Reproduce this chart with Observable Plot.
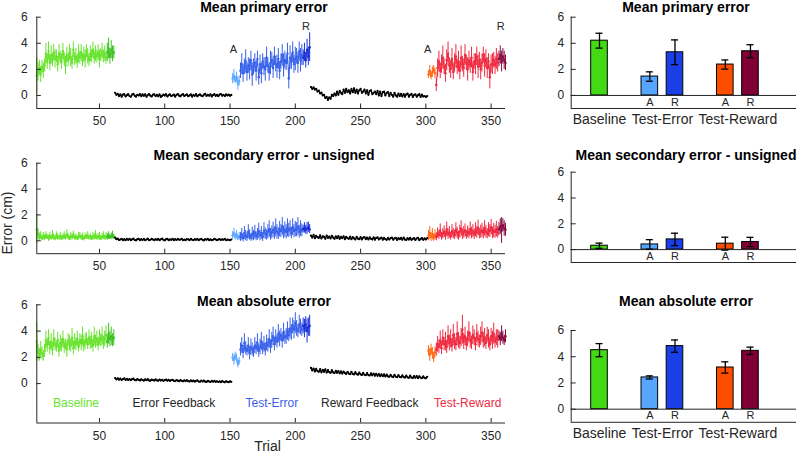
<!DOCTYPE html>
<html><head><meta charset="utf-8">
<script src="https://cdn.jsdelivr.net/npm/d3@7"></script>
<script src="https://cdn.jsdelivr.net/npm/@observablehq/plot@0.6"></script>
<style>
body{margin:0;background:#fff;}
#fig{position:relative;width:798px;height:455px;overflow:hidden;font-family:"Liberation Sans",Arial,sans-serif;background:#fff;}
.abs{position:absolute;}
.title{font-weight:bold;font-size:14px;line-height:14px;text-align:center;width:400px;color:#000;white-space:nowrap;}
.lbl{font-size:14px;line-height:14px;text-align:center;color:#262626;white-space:nowrap;}
</style></head><body><div id="fig"></div>
<script>
// ---------------- DATA ----------------
const xTicks = [50, 100, 150, 200, 250, 300, 350];
const yTicks = [0, 2, 4, 6];
const titles = ["Mean primary error", "Mean secondary error - unsigned", "Mean absolute error"];

// phases of the experiment (trial ranges)
const phaseNames = ["Baseline", "Error Feedback", "Test-Error", "Reward Feedback", "Test-Reward"];
const phaseStart = [2, 62, 152, 212, 302];
const phaseColors = ["#66e32b", "#262626", "#3a5fe8", "#262626", "#ee2a44"];

// ---- Mean primary error, per trial ----
const p1Base = [1.5,1.8,2.1,1.6,2.2,1.9,2.3,3.2,2.6,3.4, 2.5,3.1,2.7,3.3,2.8,3.0,2.4,3.2,2.9,2.6, 3.4,2.8,2.3,3.1,2.7,3.3,2.9,2.5,3.5,2.8, 3.0,2.6,3.2,2.9,3.3,2.7,3.1,2.8,3.4,3.0, 2.7,3.2,3.0,3.5,2.9,3.2,3.0,3.3,2.8,3.1, 3.4,3.0,3.2,2.9,3.3,3.6,3.0,3.5,3.2,3.3];
const p1BaseSem = [1.35,0.7,0.6,0.6,0.5,0.6,0.5,0.8,0.6,0.7, 0.6,0.7,0.5,0.6,0.7,0.5,0.6,0.7,0.5,0.6, 0.6,0.5,0.7,0.6,0.5,0.6,0.7,0.5,0.6,0.5, 0.6,0.5,0.7,0.5,0.6,0.5,0.6,0.7,0.5,0.6, 0.5,0.6,0.5,0.6,0.5,0.6,0.5,0.6,0.7,0.5, 0.6,0.5,0.6,0.5,0.7,0.8,0.6,0.7,0.6,0.5];
const p1EF = [0.2,0.05,0.12,-0.05,0.08,-0.1,0.06,0.1,-0.08,0.02, 0.1,-0.04,-0.1,0.07,0.12,-0.02,-0.09,0.05,0.0,0.1, -0.06,0.08,-0.03,0.09,-0.1,0.03,0.11,-0.02,-0.08,0.06, 0.09,-0.05,0.04,-0.07,0.08,-0.11,-0.03,0.07,-0.01,0.1, -0.08,0.02,0.09,-0.05,0.0,0.07,-0.09,0.04,0.11,-0.02, -0.07,0.05,0.1,-0.04,0.02,0.09,-0.06,0.0,0.08,-0.09, 0.04,-0.03,0.1,-0.07,0.02,0.08,-0.02,-0.06,0.06,0.12, -0.04,0.05,-0.02,0.09,-0.08,0.03,0.1,-0.03,0.05,-0.06, 0.07,0.11,-0.02,0.05,-0.05,0.08,0.0,0.06,-0.03,0.04];
const p1TE = [1.3,1.5,1.2,1.4,0.9,1.1, 1.9,2.4,1.7,2.2,2.6,1.8,2.3,2.0,2.7,1.6, 2.2,2.5,1.9,2.8,1.4,2.4,1.7,2.6,2.2,2.0, 2.9,2.3,1.8,2.5,2.7,2.1,3.0,2.4,2.2,2.8, 1.9,2.6,3.1,2.3,2.7,2.5,3.2,1.3,2.9,2.6, 3.3,2.4,2.8,3.0,2.5,3.4,2.7,3.1, 2.9,3.3,2.7,3.5,3.0,3.7];
const p1TESem = [0.4,0.5,0.3,0.4,0.5,0.4, 0.6,0.8,0.7,0.6,0.9,0.7,0.6,0.8,0.7,0.9, 0.6,0.7,0.8,0.6,0.6,0.7,0.8,0.6,0.7,0.9, 0.8,0.6,0.7,0.9,0.6,0.8,0.7,0.6,0.9,0.8, 0.7,0.6,0.8,0.9,0.7,0.6,0.8,0.8,0.9,0.6, 0.8,0.7,0.9,0.6,0.8,0.7,0.9,0.8, 0.6,0.7,0.6,0.8,0.7,1.1];
const p1RF = [0.65,0.5,0.62,0.45,0.5,0.3,0.38,0.15,0.22,0.0, 0.05,-0.2,-0.1,-0.35,-0.15,-0.25,0.05,-0.05,0.15,0.0, 0.3,0.05,0.35,0.2,0.1,0.45,0.2,0.5,0.25,0.4, 0.15,0.5,0.25,0.55,0.2,0.45,0.15,0.4,0.5,0.2, 0.3,0.45,0.15,0.4,0.05,0.35,0.4,0.1,0.2,0.3, 0.1,0.35,0.0,0.3,-0.05,0.25,0.3,0.0,0.2,0.25, -0.05,0.2,0.05,-0.1,0.2,0.0,-0.1,0.15,-0.05,0.12, -0.08,0.1,-0.1,0.08,0.15,-0.1,0.05,0.12,-0.12,0.05, 0.08,-0.1,0.02,0.1,-0.12,0.06,-0.08,-0.05,-0.12,-0.05];
const p1TR = [1.6,1.9,1.5,1.8,2.0,1.7, 0.8,2.1,2.6,1.9,2.4,2.9,2.2,1.7,2.7,3.2, 2.3,2.0,2.8,1.8,2.5,3.0,2.2,2.6,1.9,2.9, 2.4,2.1,3.1,2.5,2.0,2.7,2.3,2.9,1.8,2.6, 2.4,3.0,2.2,2.7,2.0,2.5,3.1,2.3,2.8,2.1, 2.6,1.4,2.4,2.4,2.7,2.3,2.8,2.5, 2.8,3.1,2.6,3.0,2.7,2.5];
const p1TRSem = [0.3,0.4,0.3,0.4,0.3,0.4, 0.5,0.7,0.8,0.6,0.7,0.9,0.6,0.7,0.8,0.9, 0.6,0.7,0.8,0.6,0.7,0.9,0.6,0.8,0.7,0.9, 0.6,0.7,0.8,0.6,0.9,0.7,0.6,0.8,0.7,0.6, 0.8,0.7,0.9,0.6,0.8,0.7,0.6,0.9,0.7,0.8, 0.6,0.9,0.7,0.8,0.6,0.7,0.8,0.7, 0.6,0.7,0.8,0.6,0.7,0.6];

// ---- Mean secondary error - unsigned, per trial ----
const p2Base = [0.9,0.5,0.3,0.4,0.2,0.35,0.25,0.4,0.3,0.2, 0.35,0.25,0.45,0.3,0.2,0.4,0.3,0.25,0.35,0.2, 0.3,0.4,0.25,0.5,0.3,0.2,0.35,0.3,0.45,0.25, 0.3,0.2,0.35,0.4,0.25,0.3,0.2,0.35,0.3,0.4, 0.25,0.3,0.2,0.35,0.3,0.45,0.25,0.3,0.35,0.2, 0.3,0.4,0.25,0.35,0.3,0.4,0.3,0.35,0.45,0.3];
const p2BaseSem = [1.1,0.4,0.3,0.3,0.2,0.3,0.25,0.3,0.2,0.25, 0.3,0.2,0.35,0.25,0.2,0.3,0.25,0.2,0.3,0.2, 0.25,0.3,0.2,0.35,0.25,0.2,0.3,0.25,0.3,0.2, 0.25,0.2,0.3,0.25,0.2,0.3,0.2,0.25,0.2,0.3, 0.2,0.25,0.2,0.3,0.25,0.35,0.2,0.25,0.3,0.2, 0.25,0.3,0.2,0.3,0.25,0.3,0.2,0.25,0.3,0.2];
const p2EF = [0.25,0.12,0.16,0.06,0.1,0.15,0.05,0.12,0.04,0.14, 0.07,0.15,0.05,0.11,0.16,0.06,0.03,0.12,0.15,0.05, 0.12,0.06,0.14,0.04,0.1,0.16,0.05,0.08,0.14,0.1, 0.04,0.12,0.07,0.15,0.05,0.11,0.17,0.07,0.03,0.12, 0.14,0.05,0.11,0.07,0.15,0.04,0.12,0.06,0.14,0.08, 0.1,0.15,0.05,0.09,0.04,0.13,0.11,0.05,0.15,0.08, 0.04,0.12,0.07,0.14,0.05,0.11,0.15,0.07,0.03,0.12, 0.08,0.14,0.05,0.11,0.04,0.08,0.15,0.1,0.05,0.09, 0.13,0.06,0.11,0.08,0.15,0.04,0.1,0.07,0.05,0.1];
const p2TE = [0.4,0.6,0.3,0.5,0.2,0.35, 0.3,0.5,0.2,0.6,0.4,0.3,0.7,0.45,0.25,0.55, 0.4,0.65,0.35,0.5,0.75,0.4,0.6,0.3,0.8,0.55, 0.45,0.7,0.9,0.5,0.65,0.85,0.6,1.0,0.7,0.55, 0.9,0.75,1.1,0.65,0.85,0.7,1.0,0.8,0.95,0.6, 1.05,0.75,0.9,0.85,1.1,0.7,0.95,0.8, 0.9,1.0,0.85,0.95,1.05,0.9];
const p2TESem = [0.3,0.35,0.25,0.3,0.2,0.3, 0.35,0.45,0.3,0.5,0.4,0.35,0.55,0.4,0.3,0.5, 0.4,0.55,0.35,0.45,0.6,0.4,0.5,0.35,0.6,0.45, 0.4,0.55,0.65,0.45,0.5,0.6,0.5,0.7,0.55,0.45, 0.6,0.5,0.7,0.5,0.6,0.55,0.7,0.55,0.6,0.45, 0.65,0.5,0.6,0.55,0.7,0.5,0.6,0.5, 0.3,0.4,0.35,0.45,0.4,0.35];
const p2RF = [0.4,0.25,0.45,0.2,0.38,0.28,0.22,0.42,0.18,0.35, 0.3,0.15,0.4,0.22,0.33,0.18,0.38,0.25,0.15,0.34, 0.2,0.36,0.15,0.3,0.2,0.35,0.12,0.3,0.2,0.15, 0.32,0.12,0.28,0.18,0.1,0.3,0.16,0.12,0.28,0.1, 0.24,0.28,0.12,0.25,0.1,0.27,0.15,0.1,0.26,0.08, 0.22,0.26,0.1,0.18,0.24,0.08,0.22,0.12,0.07,0.22, 0.1,0.2,0.25,0.08,0.18,0.23,0.06,0.2,0.12,0.22, 0.08,0.24,0.1,0.06,0.2,0.09,0.22,0.07,0.15,0.2, 0.06,0.18,0.22,0.05,0.14,0.2,0.07,0.18,0.1,0.2];
const p2TR = [0.4,0.6,0.3,0.5,0.25,0.45, 0.3,0.6,0.45,0.8,0.35,0.55,0.7,0.4,0.9,0.5, 0.65,0.35,0.75,0.55,0.45,0.85,0.6,0.4,0.7,0.95, 0.5,0.65,0.8,0.45,0.7,0.55,0.9,0.6,0.75,0.5, 0.85,0.65,1.0,0.55,0.7,0.8,0.6,0.95,0.7,0.55, 0.85,0.75,1.05,0.6,0.8,0.7,0.9,0.65, 0.9,1.1,0.8,1.2,0.95,0.85];
const p2TRSem = [0.4,0.5,0.35,0.45,0.3,0.4, 0.3,0.4,0.35,0.5,0.3,0.4,0.45,0.35,0.55,0.4, 0.45,0.3,0.5,0.4,0.35,0.55,0.45,0.35,0.5,0.6, 0.4,0.45,0.5,0.35,0.45,0.4,0.55,0.45,0.5,0.4, 0.55,0.45,0.6,0.4,0.5,0.55,0.45,0.6,0.5,0.4, 0.55,0.5,0.6,0.45,0.55,0.5,0.6,0.45, 0.5,0.6,1.0,0.5,0.6,0.5];

// ---- Mean absolute error, per trial ----
const p3Base = [3.2,2.4,2.2,2.6,2.3,2.1,2.5,3.3,2.9,3.5, 2.7,3.2,2.6,3.4,3.0,2.8,3.3,2.5,3.1,2.9, 3.4,2.8,3.0,2.6,3.3,3.1,2.9,3.5,2.7,3.2, 3.0,3.4,2.8,3.3,3.1,3.6,2.9,3.2,3.4,3.0, 3.5,3.1,3.3,2.9,3.6,3.2,3.4,3.0,3.5,3.3, 3.6,3.1,3.4,3.7,3.2,3.8,3.4,3.6,3.3,3.5];
const p3BaseSem = [1.5,0.6,0.5,0.6,0.5,0.4,0.5,0.7,0.5,0.6, 0.5,0.6,0.5,0.7,0.5,0.4,0.6,0.5,0.6,0.5, 0.6,0.5,0.4,0.6,0.5,0.6,0.5,0.7,0.5,0.6, 0.5,0.6,0.4,0.5,0.6,0.7,0.5,0.6,0.5,0.4, 0.6,0.5,0.6,0.5,0.7,0.5,0.6,0.5,0.6,0.5, 0.7,0.5,0.6,0.7,0.5,0.8,0.6,0.7,0.5,0.6];
const p3EF = [0.42,0.32,0.4,0.3,0.38,0.27,0.35,0.4,0.28,0.36, 0.27,0.35,0.26,0.34,0.38,0.27,0.25,0.34,0.29,0.24, 0.33,0.27,0.23,0.32,0.26,0.34,0.24,0.22,0.31,0.27, 0.23,0.32,0.25,0.22,0.31,0.23,0.29,0.21,0.26,0.31, 0.22,0.28,0.2,0.27,0.29,0.21,0.19,0.27,0.22,0.18, 0.26,0.2,0.17,0.25,0.19,0.26,0.18,0.16,0.24,0.17, 0.23,0.15,0.21,0.24,0.16,0.14,0.22,0.16,0.23,0.15, 0.13,0.21,0.16,0.12,0.2,0.14,0.21,0.13,0.18,0.12, 0.17,0.11,0.19,0.14,0.1,0.18,0.13,0.11,0.17,0.14];
const p3TE = [2.0,1.8,2.1,1.9,1.5,1.7, 2.6,2.9,2.4,3.1,2.7,2.5,2.9,2.3,2.8,2.6, 2.4,2.9,2.7,3.1,2.5,2.8,3.2,2.7,3.0,2.6, 3.1,2.9,3.4,2.8,3.3,3.6,3.0,3.5,3.2,3.8, 3.4,3.7,3.3,3.9,3.5,3.6,4.0,3.7,4.2,3.9, 4.4,4.1,4.6,4.2,4.0,4.5,4.3,4.1, 4.4,4.2,4.5,4.0,4.3,4.4];
const p3TESem = [0.3,0.4,0.3,0.35,0.3,0.3, 0.5,0.6,0.5,0.7,0.5,0.4,0.6,0.5,0.6,0.5, 0.4,0.6,0.5,0.7,0.5,0.6,0.7,0.5,0.6,0.5, 0.6,0.5,0.7,0.5,0.6,0.7,0.5,0.6,0.5,0.7, 0.6,0.5,0.6,0.7,0.5,0.6,0.7,0.5,0.8,0.6, 0.6,0.7,0.8,0.6,0.5,0.7,0.6,0.5, 0.6,0.7,0.6,0.9,0.7,0.8];
const p3RF = [1.2,1.0,1.15,0.92,1.12,0.95,0.9,1.1,0.86,1.04, 0.9,1.08,0.84,1.02,0.88,0.82,1.02,0.85,0.8,0.98, 0.82,0.96,0.78,0.94,0.76,0.92,0.8,0.74,0.9,0.76, 0.72,0.9,0.74,0.7,0.88,0.72,0.68,0.84,0.7,0.66, 0.82,0.67,0.64,0.8,0.65,0.62,0.78,0.63,0.76,0.6, 0.74,0.59,0.72,0.57,0.7,0.56,0.7,0.54,0.68,0.55, 0.52,0.67,0.54,0.5,0.66,0.52,0.49,0.64,0.51,0.48, 0.63,0.49,0.46,0.61,0.47,0.44,0.6,0.46,0.43,0.58, 0.44,0.57,0.42,0.56,0.45,0.41,0.55,0.43,0.4,0.52];
const p3TR = [2.5,2.2,2.6,2.3,2.0,2.4, 2.6,3.0,2.8,3.3,2.7,3.5,3.0,3.2,2.8,3.6, 3.1,3.4,2.9,3.7,3.2,3.0,3.8,3.3,3.1,3.5, 4.1,3.2,3.6,3.0,3.4,3.9,3.3,3.1,3.7,3.5, 3.0,3.8,3.4,3.2,3.6,3.9,3.3,3.5,3.1,3.7, 3.4,3.0,3.6,3.3,3.8,3.2,3.5,3.4, 3.6,3.4,3.8,3.5,3.3,3.6];
const p3TRSem = [0.4,0.5,0.4,0.45,0.4,0.4, 0.5,0.6,0.5,0.7,0.5,0.6,0.5,0.7,0.5,0.8, 0.6,0.7,0.5,0.8,0.6,0.5,0.9,0.6,0.5,0.7, 1.1,0.6,0.7,0.5,0.6,0.8,0.6,0.5,0.7,0.6, 0.5,0.7,0.6,0.5,0.7,0.8,0.6,0.7,0.5,0.6, 0.7,0.5,0.6,0.7,0.8,0.5,0.6,0.7, 0.4,0.5,0.6,0.5,0.4,0.5];

// ---- bar summaries ----
const barGroup = ["Baseline", "Test-Error", "Test-Error", "Test-Reward", "Test-Reward"];
const barSub = ["", "A", "R", "A", "R"];
const barPos = [1, 3, 4, 6, 7];
const barColors = ["#44d915", "#56a6ff", "#1b3fe6", "#ff4d00", "#800036"];
const primaryBar = [4.2, 1.45, 3.31, 2.37, 3.39];
const primaryErr = [0.57, 0.36, 0.95, 0.35, 0.5];
const secondaryBar = [0.3, 0.4, 0.79, 0.46, 0.59];
const secondaryErr = [0.2, 0.37, 0.48, 0.5, 0.36];
const absoluteBar = [4.5, 2.42, 4.81, 3.18, 4.45];
const absoluteErr = [0.5, 0.12, 0.47, 0.43, 0.28];

// A/R annotations on the primary-error trial panel
const arNotes = [{t: 152.6, y: 3.5, text: "A"}, {t: 208.2, y: 5.3, text: "R"}, {t: 301.3, y: 3.5, text: "A"}, {t: 357.4, y: 5.3, text: "R"}];

// ---------------- DRAWING ----------------
const AX = "#262626";
const FONT = '"Liberation Sans", Arial, sans-serif';
const fmt = d => String(d);
const fig = document.getElementById("fig");
function place(node, left, top) {
  const d = document.createElement("div");
  d.className = "abs";
  d.style.left = left + "px"; d.style.top = top + "px";
  d.appendChild(node); fig.appendChild(d); return d;
}
function html(text, cls, left, top, extra) {
  const d = document.createElement("div");
  d.className = "abs " + cls; d.textContent = text;
  d.style.left = left + "px"; d.style.top = top + "px";
  if (extra) Object.assign(d.style, extra);
  fig.appendChild(d); return d;
}

function trialColor(t) {
  if (t < 62) return t >= 56 ? "#3dc21f" : "#66e32b";
  if (t >= 152 && t < 212) return t < 158 ? "#5ea8ff" : (t >= 206 ? "#1731d6" : "#3660ea");
  if (t >= 302) return t < 308 ? "#ff6a12" : (t >= 356 ? "#8a0b40" : "#f0283e");
  return "#000";
}
function buildSeries(base, baseSem, ef, te, teSem, rf, tr, trSem) {
  const colored = [], black = [];
  const addC = (arr, sem, start) => arr.forEach((m, i) => colored.push({t: start + i, m, s: sem[i], c: trialColor(start + i)}));
  const addB = (arr, start, seg) => arr.forEach((m, i) => black.push({t: start + i, m, seg}));
  addC(base, baseSem, phaseStart[0]);
  addB(ef, phaseStart[1], "ef");
  addC(te, teSem, phaseStart[2]);
  addB(rf, phaseStart[3], "rf");
  addC(tr, trSem, phaseStart[4]);
  return {colored, black};
}

const xDom = [2, 361];
function trialPanel(series, o) {
  const yDom = o.yDom;
  const marks = [
    Plot.ruleX(series.colored, {x: "t", y1: d => d.m - d.s, y2: d => d.m + d.s, stroke: "c", strokeWidth: 1}),
    Plot.line(series.colored, {x: "t", y: "m", stroke: "c", z: "c", strokeWidth: 1}),
    Plot.dot(series.colored, {x: "t", y: "m", fill: "c", r: 1.2}),
    Plot.line(series.black, {x: "t", y: "m", z: "seg", stroke: "#000", strokeWidth: 1.4}),
    Plot.dot(series.black, {x: "t", y: "m", fill: "#000", r: 1.1}),
    Plot.ruleX([xDom[0]], {y1: yDom[0], y2: yDom[1], stroke: AX}),
    Plot.ruleY([yDom[0]], {x1: xDom[0], x2: xDom[1], stroke: AX}),
    Plot.ruleX(xTicks, {x: d => d, y1: yDom[0], y2: yDom[0], insetTop: -4.5, stroke: AX}),
    Plot.ruleY(yTicks, {y: d => d, x1: xDom[0], x2: xDom[0], insetRight: -4.5, stroke: AX}),
    Plot.axisX({ticks: xTicks, tickFormat: fmt, label: null, tickSize: 0, tickPadding: 8, fontSize: 12, fill: AX}),
    Plot.axisY({ticks: yTicks, tickFormat: fmt, label: null, tickSize: 0, tickPadding: 9, fontSize: 12, fill: AX})
  ];
  if (o.notes) marks.push(Plot.text(o.notes, {x: "t", y: "y", text: "text", fontSize: 11, fill: AX}));
  if (o.phases) marks.push(Plot.text(o.phases, {x: "t", y: -1.5, text: "name", fill: "c", fontSize: 12}));
  const p = Plot.plot({
    width: 520, height: o.height,
    marginLeft: 36.3, marginRight: 15, marginTop: o.mt, marginBottom: o.mb,
    x: {domain: xDom, axis: null}, y: {domain: yDom, axis: null},
    color: {type: "identity"},
    style: {fontFamily: FONT, fontSize: "12px", color: AX, background: "transparent"},
    marks
  });
  place(p, 0, o.top);
}

const bxDom = [-0.125, 8.83];
function barPanel(vals, errs, o) {
  const yDom = [-1, 6];
  const data = vals.map((v, i) => ({pos: barPos[i], v, e: errs[i], c: barColors[i], sub: barSub[i], g: barGroup[i]}));
  const groups = d3.groups(data, d => d.g).map(([name, ds]) => ({name, x: d3.mean(ds, d => d.pos)}));
  const marks = [
    Plot.rect(data, {x1: d => d.pos - 0.33, x2: d => d.pos + 0.33, y1: 0, y2: "v", fill: "c", stroke: "#000", strokeWidth: 1}),
    Plot.ruleY([0], {stroke: AX}),
    Plot.ruleY([yDom[0]], {stroke: AX}),
    Plot.ruleX([bxDom[0]], {y1: yDom[0], y2: yDom[1], stroke: AX}),
    Plot.ruleY(yTicks, {y: d => d, x1: bxDom[0], x2: bxDom[0], insetRight: -5, stroke: AX}),
    Plot.ruleX(data, {x: "pos", y1: d => d.v - d.e, y2: d => d.v + d.e, stroke: "#000", strokeWidth: 1.3}),
    Plot.ruleY(data, {y: d => d.v + d.e, x1: d => d.pos - 0.14, x2: d => d.pos + 0.14, stroke: "#000", strokeWidth: 1.3}),
    Plot.ruleY(data, {y: d => d.v - d.e, x1: d => d.pos - 0.14, x2: d => d.pos + 0.14, stroke: "#000", strokeWidth: 1.3}),
    Plot.text(data.filter(d => d.sub), {x: "pos", y: -0.5, text: "sub", fontSize: 11, fill: AX}),
    Plot.axisY({ticks: yTicks, tickFormat: fmt, label: null, tickSize: 0, tickPadding: 7, fontSize: 12, fill: AX})
  ];
  if (o.groups) marks.push(Plot.text(groups, {x: "x", y: yDom[0], dy: 11, text: "name", fontSize: 14, fill: AX}));
  const p = Plot.plot({
    width: 258, height: o.height,
    marginLeft: 30.7, marginRight: 2, marginTop: o.mt, marginBottom: o.mb,
    x: {domain: bxDom, axis: null}, y: {domain: yDom, axis: null},
    color: {type: "identity"},
    style: {fontFamily: FONT, fontSize: "12px", color: AX, background: "transparent"},
    marks
  });
  place(p, 540, o.top);
}

const s1 = buildSeries(p1Base, p1BaseSem, p1EF, p1TE, p1TESem, p1RF, p1TR, p1TRSem);
const s2 = buildSeries(p2Base, p2BaseSem, p2EF, p2TE, p2TESem, p2RF, p2TR, p2TRSem);
const s3 = buildSeries(p3Base, p3BaseSem, p3EF, p3TE, p3TESem, p3RF, p3TR, p3TRSem);
const phaseEnds = phaseStart.slice(1).concat([xDom[1] + 1]);
const phaseLabels = phaseNames.map((name, i) => ({name, t: (phaseStart[i] + phaseEnds[i]) / 2, c: phaseColors[i]}));

trialPanel(s1, {top: 0, height: 135, mt: 16.7, mb: 27, yDom: [-1, 6], notes: arNotes});
trialPanel(s2, {top: 140, height: 135, mt: 22.7, mb: 21.8, yDom: [-1, 6]});
trialPanel(s3, {top: 280, height: 172, mt: 24.3, mb: 29.5, yDom: [-3, 6], phases: phaseLabels});

barPanel(primaryBar, primaryErr, {top: 0, height: 135, mt: 16.7, mb: 27, groups: true});
barPanel(secondaryBar, secondaryErr, {top: 140, height: 126, mt: 31.7, mb: 4, groups: false});
barPanel(absoluteBar, absoluteErr, {top: 280, height: 172, mt: 50, mb: 30.2, groups: true});

// titles and axis labels
const titleTops = [0, 148, 294];
titles.forEach((t, i) => {
  html(t, "title", 264 - 200, titleTops[i]);
  html(t, "title", 686 - 200, titleTops[i]);
});
html("Error (cm)", "lbl", 7 - 50, 223 - 7, {width: "100px", transform: "rotate(-90deg)"});
html("Trial", "lbl", 267.5 - 50, 439, {width: "100px", height: "15px"});
</script></body></html>
